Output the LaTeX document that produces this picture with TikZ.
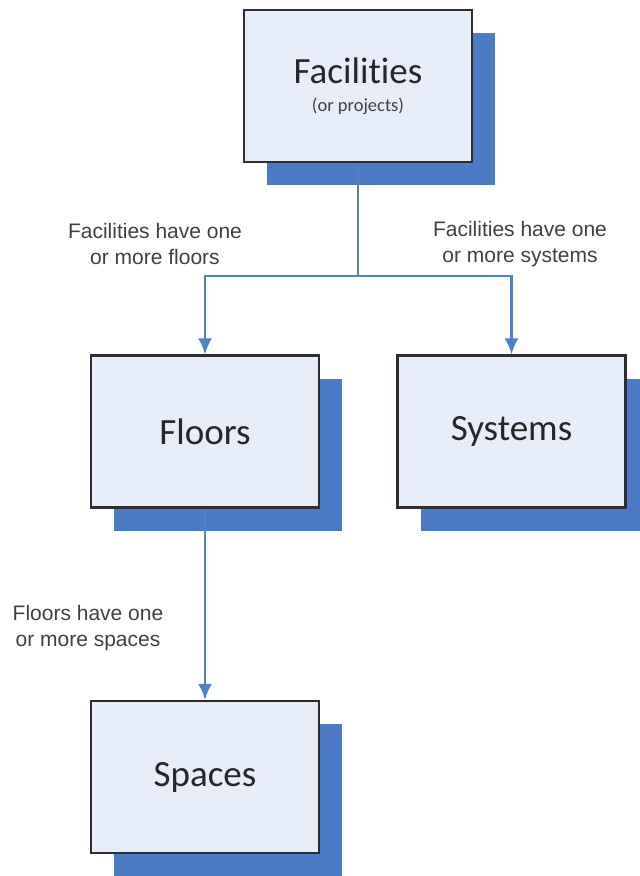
\documentclass[tikz,border=0pt]{standalone}
\usepackage{fontspec}
\usepackage{tikz}
\usetikzlibrary{arrows.meta}
\usetikzlibrary{positioning}
\usetikzlibrary{shadows}
\newfontfamily\boxfont[Ligatures=NoCommon]{Carlito}
\newfontfamily\notefont{Liberation Sans}
\definecolor{boxfill}{HTML}{E6ECF8}
\definecolor{shadowblue}{HTML}{4A7BC4}
\definecolor{wireblue}{HTML}{4F81C9}
\definecolor{boxborder}{HTML}{2E2E2E}
\tikzstyle{block} = [rectangle, draw=boxborder, line width=2.2pt, fill=boxfill, text=black!85, font=\boxfont\fontsize{37}{28}\selectfont, align=center, minimum width=228pt, minimum height=152pt, drop shadow={shadow xshift=23pt, shadow yshift=-23pt, fill=shadowblue, opacity=1}]
\tikzstyle{line} = [draw=wireblue, line width=2.4pt, -{Latex[length=16pt, width=14pt]}]
\tikzstyle{wire} = [draw=wireblue, line width=2.4pt]
\tikzstyle{note} = [text=black!75, font=\notefont\fontsize{21}{26}\selectfont, align=center]

\begin{document}
\begin{tikzpicture}
            \useasboundingbox [fill=white] (0,0) rectangle (640pt,-876pt);
            % Place nodes
            \node [block] (fac) at (358pt,-86pt) {Facilities\\{\fontsize{18.5}{22}\selectfont\color{black!75} (or projects)}};
            \node [block, below of=fac, node distance=345.5pt, xshift=-153pt] (floors) {Floors};
            \node [block, right of=floors, node distance=306.5pt] (systems) {Systems};
            \node [block, below of=floors, node distance=345.5pt] (spaces) {Spaces};
            \coordinate [below of=fac, node distance=190pt] (split);
            % Place labels
            \node [note, left of=split, node distance=203pt, yshift=32pt] (nfloors) {Facilities have one\\or more floors};
            \node [note, right of=split, node distance=162pt, yshift=32pt] (nsystems) {Facilities have one\\or more systems};
            \node [note, left of=spaces, node distance=117pt, yshift=149pt] (nspaces) {Floors have one\\or more spaces};
            % Draw edges
            \path [wire] (fac) -- (split);
            \path [line] (split) -| (floors);
            \path [line] (split) -| (systems);
            \path [line] (floors) -- (spaces);
\end{tikzpicture}
\end{document}
